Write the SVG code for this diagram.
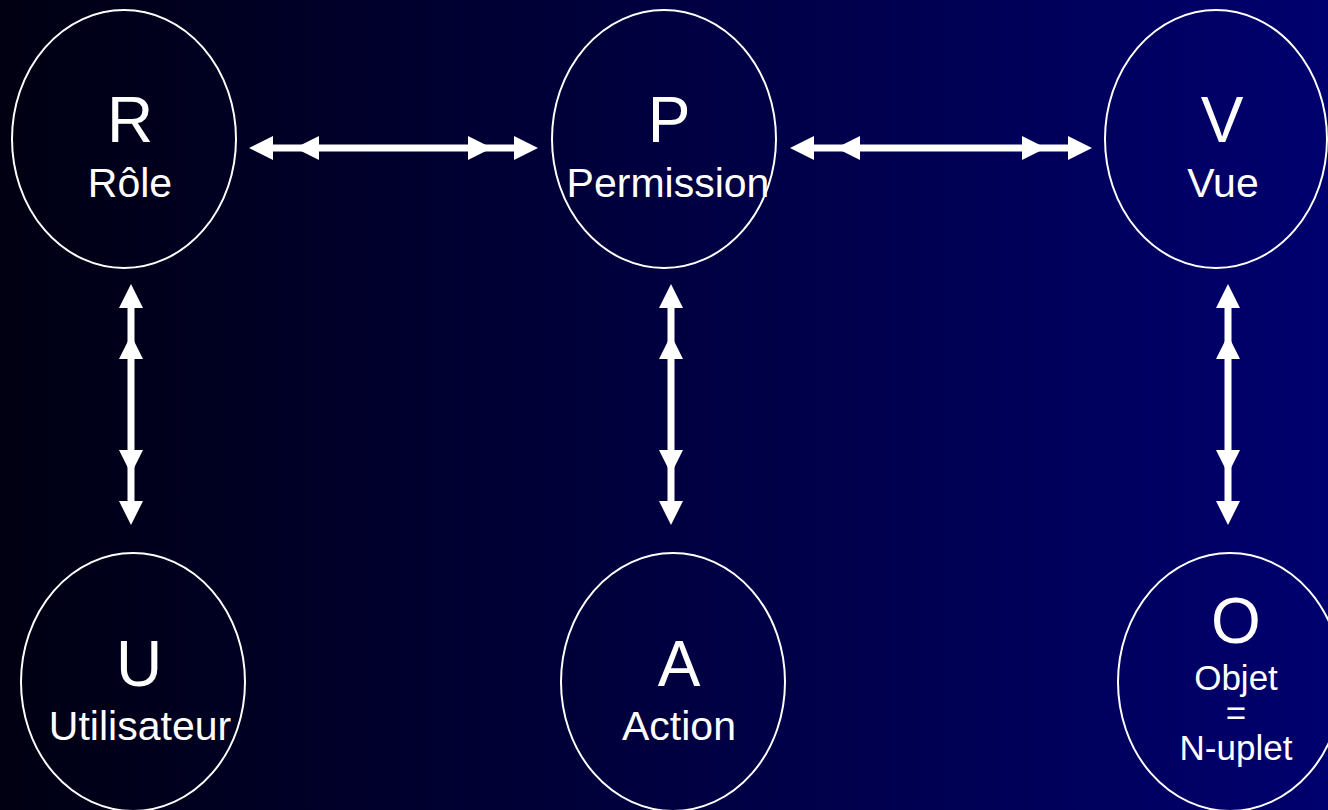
<svg xmlns="http://www.w3.org/2000/svg" xmlns:xlink="http://www.w3.org/1999/xlink" width="1328" height="810" viewBox="0 0 1328 810">
  <defs>
    <linearGradient id="bg" x1="0" y1="0" x2="1" y2="0">
      <stop offset="0" stop-color="#000012"/>
      <stop offset="1" stop-color="#00006e"/>
    </linearGradient>
    <polygon id="head" points="0,0 24,-12 24,12" fill="#ffffff"/>
  </defs>
  <style>
    .node ellipse { fill: none; stroke: #ffffff; stroke-width: 2; }
    .big { font-family: "Liberation Sans", Arial, sans-serif; font-size: 64px; fill: #ffffff; text-anchor: middle; }
    .lbl { font-family: "Liberation Sans", Arial, sans-serif; font-size: 41px; fill: #ffffff; text-anchor: middle; }
    .sm { font-family: "Liberation Sans", Arial, sans-serif; font-size: 35px; fill: #ffffff; text-anchor: middle; }
    .shaft { stroke: #ffffff; stroke-width: 7; fill: none; }
  </style>
  <rect x="0" y="0" width="1328" height="810" fill="url(#bg)"/>

  <g id="connectors">
    <!-- R <-> P -->
    <line class="shaft" x1="260" y1="148" x2="527" y2="148"/>
    <use xlink:href="#head" transform="translate(249,148)"/>
    <use xlink:href="#head" transform="translate(295,148)"/>
    <use xlink:href="#head" transform="translate(492,148) rotate(180)"/>
    <use xlink:href="#head" transform="translate(538,148) rotate(180)"/>
    <!-- P <-> V -->
    <line class="shaft" x1="801" y1="148" x2="1081" y2="148"/>
    <use xlink:href="#head" transform="translate(790,148)"/>
    <use xlink:href="#head" transform="translate(836,148)"/>
    <use xlink:href="#head" transform="translate(1046,148) rotate(180)"/>
    <use xlink:href="#head" transform="translate(1092,148) rotate(180)"/>
    <!-- R <-> U -->
    <line class="shaft" x1="131" y1="295" x2="131" y2="514"/>
    <use xlink:href="#head" transform="translate(131,284) rotate(90)"/>
    <use xlink:href="#head" transform="translate(131,335) rotate(90)"/>
    <use xlink:href="#head" transform="translate(131,474) rotate(-90)"/>
    <use xlink:href="#head" transform="translate(131,525) rotate(-90)"/>
    <!-- P <-> A -->
    <line class="shaft" x1="671" y1="295" x2="671" y2="514"/>
    <use xlink:href="#head" transform="translate(671,284) rotate(90)"/>
    <use xlink:href="#head" transform="translate(671,335) rotate(90)"/>
    <use xlink:href="#head" transform="translate(671,474) rotate(-90)"/>
    <use xlink:href="#head" transform="translate(671,525) rotate(-90)"/>
    <!-- V <-> O -->
    <line class="shaft" x1="1228" y1="295" x2="1228" y2="514"/>
    <use xlink:href="#head" transform="translate(1228,284) rotate(90)"/>
    <use xlink:href="#head" transform="translate(1228,335) rotate(90)"/>
    <use xlink:href="#head" transform="translate(1228,474) rotate(-90)"/>
    <use xlink:href="#head" transform="translate(1228,525) rotate(-90)"/>
  </g>

  <g id="node-R" class="node">
    <ellipse cx="124" cy="139" rx="112" ry="129"/>
    <text class="big" x="130" y="142">R</text>
    <text class="lbl" x="130" y="197">Rôle</text>
  </g>
  <g id="node-P" class="node">
    <ellipse cx="664" cy="139" rx="112" ry="129"/>
    <text class="big" x="669" y="142">P</text>
    <text class="lbl" x="668" y="197">Permission</text>
  </g>
  <g id="node-V" class="node">
    <ellipse cx="1216" cy="139" rx="111" ry="129"/>
    <text class="big" x="1222" y="142">V</text>
    <text class="lbl" x="1223" y="197">Vue</text>
  </g>
  <g id="node-U" class="node">
    <ellipse cx="133" cy="682" rx="112" ry="129"/>
    <text class="big" x="139" y="686">U</text>
    <text class="lbl" x="140" y="740">Utilisateur</text>
  </g>
  <g id="node-A" class="node">
    <ellipse cx="673" cy="682" rx="112" ry="129"/>
    <text class="big" x="679" y="686">A</text>
    <text class="lbl" x="679" y="740">Action</text>
  </g>
  <g id="node-O" class="node">
    <ellipse cx="1230" cy="682" rx="112" ry="129"/>
    <text class="big" x="1236" y="643">O</text>
    <text class="sm" x="1236" y="690">Objet</text>
    <text class="sm" x="1236" y="725">=</text>
    <text class="sm" x="1236" y="760">N-uplet</text>
  </g>
</svg>
